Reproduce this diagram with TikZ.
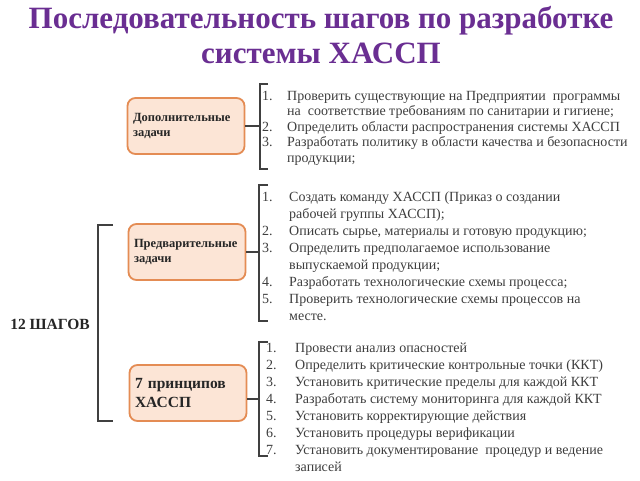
\documentclass[tikz,border=0pt]{standalone}
\usepackage{fontspec}
\setmainfont{Liberation Serif}
\usepackage{xcolor}
\usepackage{array}
\usepackage{tikz}

\definecolor{titlepurple}{RGB}{106,46,146}
\definecolor{boxfill}{RGB}{252,229,214}
\definecolor{boxline}{RGB}{228,140,84}
\definecolor{listgray}{RGB}{62,62,62}

\begin{document}
\begin{tikzpicture}[x=1pt, y=-1pt,
  task/.style={rectangle, rounded corners=8pt, fill=boxfill, draw=boxline, line width=1.8pt,
    minimum width=117pt, minimum height=56pt, text width=106pt, align=left,
    font=\bfseries\fontsize{12.5}{14.5}\selectfont, text=black!85},
  steps/.style={anchor=north west, inner sep=0pt, text=listgray},
  brace/.style={draw=black!75, line width=1.2pt}]
  \useasboundingbox[fill=white] (0,0) rectangle (640,480);

  \node[font=\bfseries\fontsize{31}{35}\selectfont, text=titlepurple, align=center] (title) at (321,35)
    {Последовательность шагов по разработке\\системы ХАССП};

  \node[task] (extra) at (186,126) {Дополнительные\\задачи};
  \node[task] (prelim) at (187,252) {Предварительные\\задачи};
  \node[task, font=\bfseries\fontsize{15.5}{19}\selectfont] (principles) at (188,393) {7 принципов\\ХАССП};
  \node[font=\bfseries\fontsize{15.5}{18}\selectfont, text=black!85] (total) at (50,324) {12 ШАГОВ};

  \node[steps] (extralist) at (262,89) {\fontsize{14}{15.5}\selectfont
    \begin{tabular}{@{}p{25pt}@{}l@{}}
    1. & Проверить существующие на Предприятии\ \ программы\\
       & на\ \ соответствие требованиям по санитарии и гигиене;\\
    2. & Определить области распространения системы ХАССП\\
    3. & Разработать политику в области качества и безопасности\\
       & продукции;
    \end{tabular}};

  \node[steps] (prelimlist) at (262,189) {\fontsize{14}{17}\selectfont
    \begin{tabular}{@{}p{27pt}@{}l@{}}
    1. & Создать команду ХАССП (Приказ о создании\\
       & рабочей группы ХАССП);\\
    2. & Описать сырье, материалы и готовую продукцию;\\
    3. & Определить предполагаемое использование\\
       & выпускаемой продукции;\\
    4. & Разработать технологические схемы процесса;\\
    5. & Проверить технологические схемы процессов на\\
       & месте.
    \end{tabular}};

  \node[steps] (principlelist) at (266,340) {\fontsize{14}{17}\selectfont
    \begin{tabular}{@{}p{29pt}@{}l@{}}
    1. & Провести анализ опасностей\\
    2. & Определить критические контрольные точки (ККТ)\\
    3. & Установить критические пределы для каждой ККТ\\
    4. & Разработать систему мониторинга для каждой ККТ\\
    5. & Установить корректирующие действия\\
    6. & Установить процедуры верификации\\
    7. & Установить документирование\ \ процедур и ведение\\
       & записей
    \end{tabular}};

  % brackets
  \coordinate (extrabr) at (260,126);
  \coordinate (prelimbr) at (259,252);
  \coordinate (principlebr) at (259,399);
  \draw[brace] (268,84) -- (260,84) -- (260,169) -- (268,169);
  \draw[brace] (268,185) -- (259,185) -- (259,321) -- (268,321);
  \draw[brace] (268,342) -- (259,342) -- (259,456) -- (268,456);
  \draw[brace] (113,225) -- (98,225) -- (98,421) -- (113,421);

  \draw[brace] (extra.east) -- (extrabr);
  \draw[brace] (prelim.east) -- (prelimbr);
  \draw[brace] (principles.east |- principlebr) -- (principlebr);
\end{tikzpicture}
\end{document}
